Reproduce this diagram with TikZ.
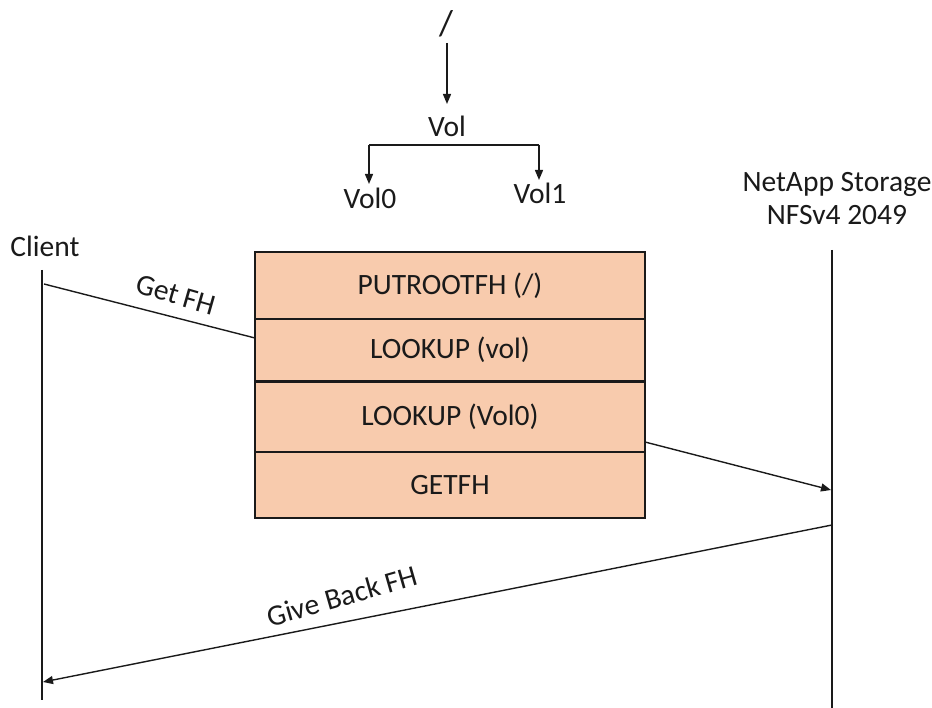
\documentclass[tikz,border=0pt]{standalone}
\usepackage{fontspec}
\setmainfont{Carlito}
\usetikzlibrary{arrows.meta,calc}
\definecolor{peach}{HTML}{F8CBAD}
\definecolor{ink}{HTML}{1A1A1A}
\begin{document}
\begin{tikzpicture}[x=1pt,y=-1pt,
  txt/.style={font=\fontsize{29.5}{33}\selectfont, text=ink, inner sep=0pt},
  row/.style={draw=ink, line width=1.4pt, fill=peach, minimum width=390pt, inner sep=0pt, font=\fontsize{29.5}{33}\selectfont, text=ink},
  ln/.style={draw=ink, line width=1.4pt},
  arr/.style={ln, -{Triangle[length=10pt,width=8pt]}}]
\useasboundingbox (0,0) rectangle (932,708);
% tree
\node[txt, font=\fontsize{36}{38}\selectfont] (root) at (446,24) {/};
\node[txt] (vol) at (447,126) {Vol};
\node[txt] (vol0) at (370,198) {Vol0};
\node[txt] (vol1) at (540,193) {Vol1};
\coordinate (rootb) at (447,43);
\coordinate (vola) at (447,104);
\draw[arr] (rootb) -- (vola);
\coordinate (bl) at (369,145);
\coordinate (br) at (539,145);
\draw[ln] (bl) -- (br);
\draw[arr] (bl) -- (369,184);
\draw[arr] (br) -- (539,180);
% actors
\node[txt] (client) at (45,246) {Client};
\node[txt, align=center] (storage) at (837,199) {NetApp Storage\\NFSv4 2049};
\coordinate (ctop) at (42,270);
\coordinate (cbot) at (42,700);
\coordinate (stop) at (832,250);
\coordinate (sbot) at (832,708);
\draw[ln] (ctop) -- (cbot);
\draw[ln] (stop) -- (sbot);
% box
\node[row, minimum height=67pt] (r1) at (450,285.5) {PUTROOTFH (/)};
\node[row, minimum height=62pt] (r2) at (450,350) {LOOKUP (vol)};
\node[row, minimum height=71pt] (r3) at (450,416.5) {LOOKUP (Vol0)};
\node[row, minimum height=66pt] (r4) at (450,485) {GETFH};
\draw[draw=ink, line width=3pt] (r2.south west) -- (r2.south east);
% messages
\coordinate (g1) at (44,284);
\coordinate (g2) at (255,338);
\draw[ln] (g1) -- (g2);
\node[txt, rotate=-16] (getfh) at (176,295) {Get FH};
\coordinate (m1) at (645,442);
\coordinate (m2) at (831,490);
\draw[arr] (m1) -- (m2);
\coordinate (b1) at (832,525);
\coordinate (b2) at (43,682);
\draw[arr] (b1) -- (b2);
\node[txt, rotate=16] (giveback) at (342,596) {Give Back FH};
\end{tikzpicture}
\end{document}
